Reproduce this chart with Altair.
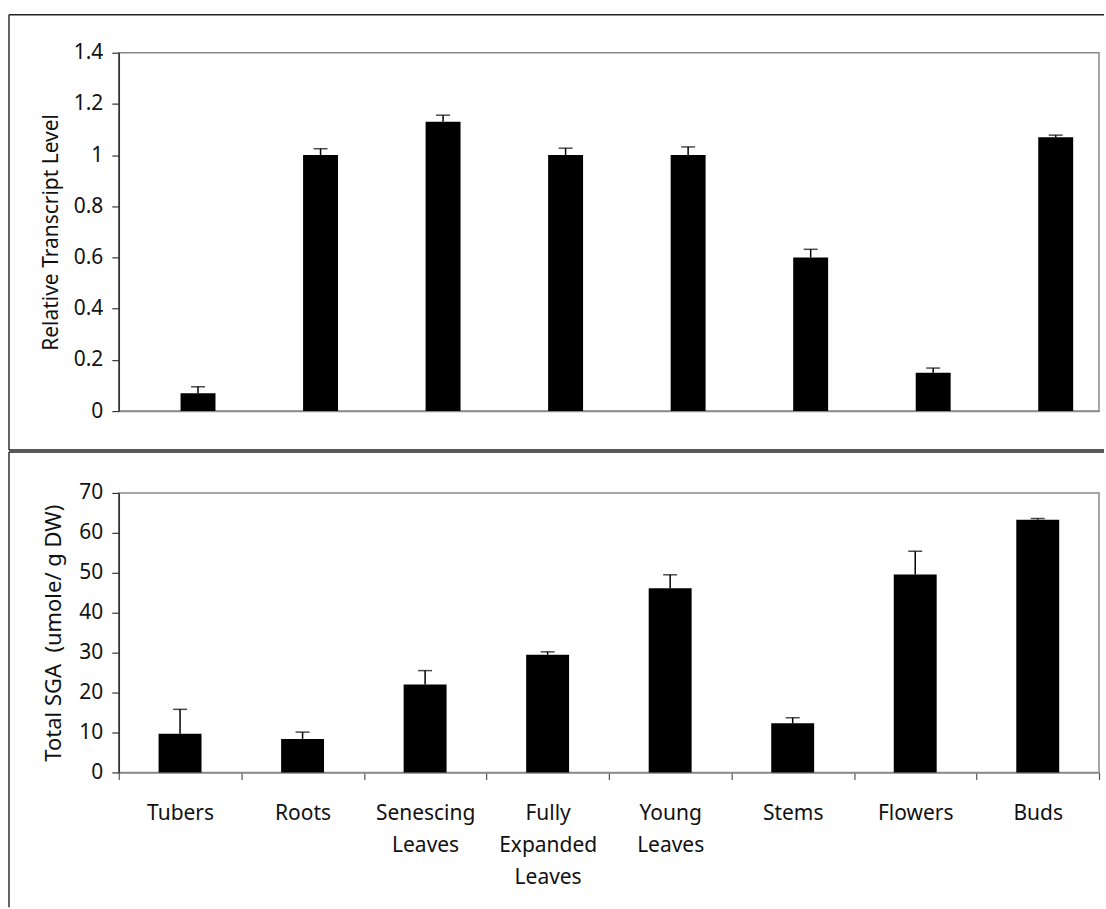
import altair as alt
import pandas as pd

categories = ["Tubers", "Roots", "Senescing Leaves", "Fully Expanded Leaves",
              "Young Leaves", "Stems", "Flowers", "Buds"]
transcript = [0.07, 1.00, 1.13, 1.00, 1.00, 0.60, 0.15, 1.07]
transcript_err = [0.025, 0.025, 0.026, 0.027, 0.032, 0.032, 0.018, 0.008]
sga = [9.7, 8.4, 22.0, 29.5, 46.1, 12.3, 49.6, 63.3]
sga_err = [6.1, 1.7, 3.5, 0.7, 3.4, 1.4, 5.8, 0.3]
top_ticks = [0, 0.2, 0.4, 0.6, 0.8, 1.0, 1.2, 1.4]
bottom_ticks = [0, 10, 20, 30, 40, 50, 60, 70]

FONT = "Noto Sans"
FS = 21
W = 982
TOP_H = 359
BOT_H = 280
FRAME = "#222222"

df_top = pd.DataFrame({"cat": categories, "val": transcript, "err": transcript_err})
df_top["hi"] = df_top["val"] + df_top["err"]
df_bot = pd.DataFrame({"cat": categories, "val": sga, "err": sga_err})
df_bot["hi"] = df_bot["val"] + df_bot["err"]
one = pd.DataFrame({"a": [0]})


def yaxis(title, ticks, fmt, title_fs=FS, title_pad=12):
    return alt.Axis(title=title, values=ticks, tickCount=20, format=fmt, grid=False,
                    labelOverlap=False, labelFlush=False,
                    domainColor="#333333", domainWidth=1.5,
                    tickColor="#333333", tickWidth=1.2, tickSize=7,
                    labelFont=FONT, labelFontSize=FS, labelColor="#111111",
                    labelPadding=9, titleFont=FONT, titleFontSize=title_fs,
                    titleFontWeight="normal", titleColor="#111111",
                    titlePadding=title_pad)


def hrule(y, x, x2):
    return alt.Chart(one).mark_rule(color=FRAME, strokeWidth=1.4).encode(
        x=alt.value(x), x2=alt.value(x2), y=alt.value(y))


def vrule(x, y, y2):
    return alt.Chart(one).mark_rule(color=FRAME, strokeWidth=1.4).encode(
        x=alt.value(x), y=alt.value(y), y2=alt.value(y2))


# ---------------- top panel ----------------
OFF = 18
xt = alt.X("cat:N", sort=categories,
           scale=alt.Scale(paddingInner=0, paddingOuter=0),
           axis=alt.Axis(labels=False, ticks=False, title=None,
                         domainColor="#8a8a8a", domainWidth=1.5))
yt = alt.Y("val:Q", scale=alt.Scale(domain=[0, 1.4], nice=False),
           axis=yaxis("Relative Transcript Level", top_ticks, ".1~f"))

base_t = alt.Chart(df_top)
bars_t = base_t.mark_bar(color="black", size=35, xOffset=OFF).encode(x=xt, y=yt)
err_t = base_t.mark_rule(color="black", strokeWidth=1.5, xOffset=OFF).encode(
    x=alt.X("cat:N", sort=categories), y="val:Q", y2="hi:Q")
cap_t = base_t.mark_tick(color="black", size=14, thickness=1.5, xOffset=OFF).encode(
    x=alt.X("cat:N", sort=categories), y="hi:Q")

top = alt.layer(
    bars_t, err_t, cap_t,
    hrule(-38, -110, 987), vrule(-110, -38, 398), hrule(398, -110, 987),
).properties(width=W, height=TOP_H)

# ---------------- bottom panel ----------------
xb = alt.X("cat:N", sort=categories,
           scale=alt.Scale(paddingInner=0, paddingOuter=0),
           axis=alt.Axis(title=None, labelAngle=0, tickBand="extent",
                         labelExpr="split(datum.label, ' ')",
                         labelFont=FONT, labelFontSize=FS, labelColor="#111111",
                         labelLineHeight=32, labelPadding=23,
                         tickSize=7, tickColor="#555555", tickWidth=1.2,
                         domainColor="#8a8a8a", domainWidth=1.5))
yb = alt.Y("val:Q", scale=alt.Scale(domain=[0, 70], nice=False),
           axis=yaxis("Total SGA\u00a0 (umole/ g DW)", bottom_ticks, "d",
                      title_fs=22, title_pad=13))

base_b = alt.Chart(df_bot)
bars_b = base_b.mark_bar(color="black", size=43).encode(x=xb, y=yb)
err_b = base_b.mark_rule(color="black", strokeWidth=1.5).encode(
    x=alt.X("cat:N", sort=categories), y="val:Q", y2="hi:Q")
cap_b = base_b.mark_tick(color="black", size=14, thickness=1.5).encode(
    x=alt.X("cat:N", sort=categories), y="hi:Q")

bottom = alt.layer(
    bars_b, err_b, cap_b,
    hrule(-41, -110, 987), vrule(-110, -41, 415),
).properties(width=W, height=BOT_H)

chart = alt.vconcat(top, bottom, spacing=-2).properties(
    padding={"left": 7, "top": 12, "right": 0, "bottom": 0},
    background="white",
).configure_view(stroke="#8a8a8a", strokeWidth=1.5)

chart.save("out.html", embed_options={"renderer": "svg", "actions": False})
